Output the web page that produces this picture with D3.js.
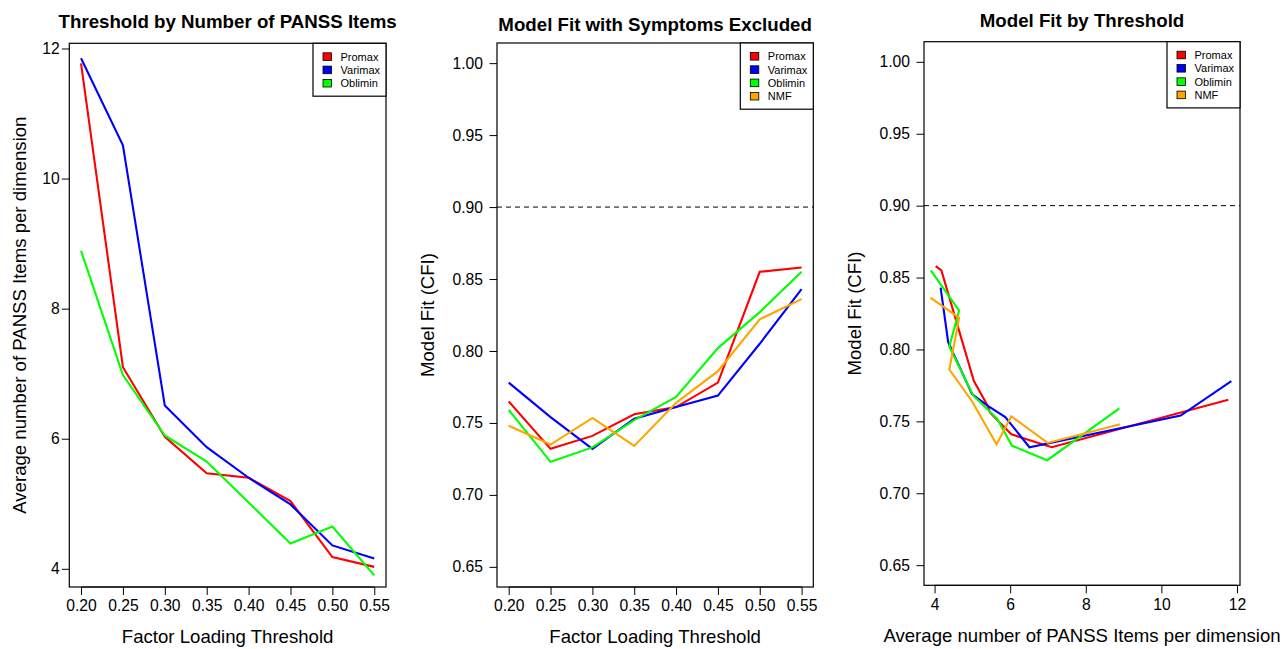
<!DOCTYPE html>
<html>
<head>
<meta charset="utf-8">
<script src="https://cdn.jsdelivr.net/npm/d3@7"></script>
<style>
  html, body { margin: 0; padding: 0; background: #fff; }
  svg { display: block; }
  text { font-family: "Liberation Sans", Arial, sans-serif; fill: #000; }
</style>
</head>
<body>
<svg id="chart" width="1284" height="649"></svg>
<script>
// ---- Data ----
const thresholds = [0.20, 0.25, 0.30, 0.35, 0.40, 0.45, 0.50, 0.55];
const methods = ["Promax", "Varimax", "Oblimin", "NMF"];
const methodColors = ["#FF0000", "#0000FF", "#00FF00", "#FFA500"];

// Average number of PANSS items per dimension, by threshold
const itemsPromax  = [11.77, 7.10, 6.03, 5.47, 5.40, 5.04, 4.18, 4.03];
const itemsVarimax = [11.85, 10.51, 6.51, 5.87, 5.40, 4.99, 4.36, 4.16];
const itemsOblimin = [8.89, 6.98, 6.05, 5.65, 5.02, 4.39, 4.65, 3.90];
const itemsNMF     = [8.91, 6.99, 6.03, 5.64, 4.99, 4.39, 4.65, 3.89];

// Model fit (CFI), by threshold
const cfiPromax  = [0.765, 0.732, 0.741, 0.756, 0.761, 0.778, 0.855, 0.858];
const cfiVarimax = [0.778, 0.754, 0.732, 0.753, 0.761, 0.769, 0.805, 0.843];
const cfiOblimin = [0.759, 0.723, 0.733, 0.752, 0.768, 0.802, 0.827, 0.855];
const cfiNMF     = [0.748, 0.735, 0.7535, 0.734, 0.764, 0.786, 0.822, 0.836];

const cfiLimits = [0.65, 1.00];
const cfiReference = 0.90;

const xTicksThreshold = [0.20, 0.25, 0.30, 0.35, 0.40, 0.45, 0.50, 0.55];
const yTicksItems = [4, 6, 8, 10, 12];
const xTicksItems = [4, 6, 8, 10, 12];
const yTicksCfi = [0.65, 0.70, 0.75, 0.80, 0.85, 0.90, 0.95, 1.00];

// ---- Helpers ----
const svg = d3.select("#chart");
function ext(lo, hi) { const d = (hi - lo) * 0.04; return [lo - d, hi + d]; }

function panel(cfg) {
  const g = svg.append("g");
  const x = d3.scaleLinear().domain(cfg.xDomain).range([cfg.left, cfg.right]);
  const y = d3.scaleLinear().domain(cfg.yDomain).range([cfg.bottom, cfg.top]);

  // reference line
  if (cfg.hline !== undefined) {
    g.append("line")
      .attr("x1", cfg.left).attr("x2", cfg.right)
      .attr("y1", y(cfg.hline)).attr("y2", y(cfg.hline))
      .attr("stroke", "#000").attr("stroke-width", 1)
      .attr("stroke-dasharray", "5,4");
  }

  // series
  const clipId = "clip" + cfg.id;
  g.append("clipPath").attr("id", clipId).append("rect")
    .attr("x", cfg.left).attr("y", cfg.top)
    .attr("width", cfg.right - cfg.left).attr("height", cfg.bottom - cfg.top);
  const line = d3.line().x(d => x(d[0])).y(d => y(d[1]));
  cfg.series.forEach(s => {
    const pts = s.xs.map((v, i) => [v, s.ys[i]]);
    g.append("path").attr("d", line(pts))
      .attr("fill", "none").attr("stroke", s.color)
      .attr("stroke-width", 2.1).attr("stroke-linejoin", "miter")
      .attr("clip-path", `url(#${clipId})`);
  });

  // x axis
  const xAxis = d3.axisBottom(x).tickValues(cfg.xTicks).tickFormat(cfg.xFmt)
    .tickSizeInner(8).tickSizeOuter(0).tickPadding(5);
  const xa = g.append("g").attr("transform", `translate(0,${cfg.bottom})`).call(xAxis);
  xa.select(".domain").remove();
  xa.append("line").attr("x1", x(cfg.xTicks[0])).attr("x2", x(cfg.xTicks[cfg.xTicks.length - 1]))
    .attr("y1", 0).attr("y2", 0).attr("stroke", "#000");
  xa.selectAll("text").attr("font-size", "15.7px").attr("fill", "#000")
    .attr("font-family", "Liberation Sans, Arial, sans-serif").attr("dy", "0.72em");
  xa.selectAll(".tick line").attr("stroke", "#000");

  // y axis
  const yAxis = d3.axisLeft(y).tickValues(cfg.yTicks).tickFormat(cfg.yFmt)
    .tickSizeInner(7.5).tickSizeOuter(0).tickPadding(cfg.yPad);
  const ya = g.append("g").attr("transform", `translate(${cfg.left},0)`).call(yAxis);
  ya.select(".domain").remove();
  ya.selectAll("text").attr("font-size", "15.7px").attr("fill", "#000")
    .attr("font-family", "Liberation Sans, Arial, sans-serif");
  ya.selectAll(".tick line").attr("stroke", "#000");

  // box
  g.append("rect").attr("x", cfg.left).attr("y", cfg.top)
    .attr("width", cfg.right - cfg.left).attr("height", cfg.bottom - cfg.top)
    .attr("fill", "none").attr("stroke", "#000").attr("stroke-width", 1.2);

  // title
  g.append("text").attr("x", (cfg.left + cfg.right) / 2).attr("y", cfg.titleY)
    .attr("text-anchor", "middle").attr("font-weight", "bold")
    .attr("font-size", "18.7px").text(cfg.title);

  // axis labels
  g.append("text").attr("x", (cfg.left + cfg.right) / 2).attr("y", cfg.xLabelY)
    .attr("text-anchor", "middle").attr("font-size", "18.6px").text(cfg.xLabel);
  const cy = (cfg.top + cfg.bottom) / 2;
  g.append("text").attr("transform", `translate(${cfg.yLabelX},${cy}) rotate(-90)`)
    .attr("text-anchor", "middle").attr("font-size", "18.6px").text(cfg.yLabel);

  // legend
  const n = cfg.series.length;
  const lw = 73, rowH = 13.3;
  const lx = cfg.right - lw, ly = cfg.top;
  const lg = g.append("g");
  lg.append("rect").attr("x", lx).attr("y", ly).attr("width", lw)
    .attr("height", rowH * n + 13).attr("fill", "#fff")
    .attr("stroke", "#000").attr("stroke-width", 1.2);
  cfg.series.forEach((s, i) => {
    const ry = ly + rowH * (i + 1);
    lg.append("rect").attr("x", lx + 10).attr("y", ry - 3.8)
      .attr("width", 8.5).attr("height", 7.6)
      .attr("fill", s.color).attr("stroke", "#000").attr("stroke-width", 0.8);
    lg.append("text").attr("x", lx + 27.5).attr("y", ry + 4)
      .attr("font-size", "11px").text(s.name);
  });
}

const fmt2 = d3.format(".2f");
const fmtInt = d3.format("d");
const itemsAll = [itemsPromax, itemsVarimax, itemsOblimin, itemsNMF];
const cfiAll = [cfiPromax, cfiVarimax, cfiOblimin, cfiNMF];
const thrDomain = ext(d3.min(thresholds), d3.max(thresholds));
const itemsDomain = ext(d3.min(itemsPromax), d3.max(itemsPromax));
const cfiDomain = ext(cfiLimits[0], cfiLimits[1]);

// Panel 1
panel({
  id: 1, left: 69.3, right: 386, top: 43.3, bottom: 587,
  xDomain: thrDomain, yDomain: itemsDomain,
  xTicks: xTicksThreshold, yTicks: yTicksItems, xFmt: fmt2, yFmt: fmtInt, yPad: 2,
  title: "Threshold by Number of PANSS Items", titleY: 28.3,
  xLabel: "Factor Loading Threshold", xLabelY: 643,
  yLabel: "Average number of PANSS Items per dimension", yLabelX: 26,
  series: [0, 1, 2].map(i => ({ name: methods[i], color: methodColors[i], xs: thresholds, ys: itemsAll[i] }))
});

// Panel 2
panel({
  id: 2, left: 497, right: 813.3, top: 43, bottom: 587,
  xDomain: thrDomain, yDomain: cfiDomain, hline: cfiReference,
  xTicks: xTicksThreshold, yTicks: yTicksCfi, xFmt: fmt2, yFmt: fmt2, yPad: 6.5,
  title: "Model Fit with Symptoms Excluded", titleY: 31,
  xLabel: "Factor Loading Threshold", xLabelY: 643,
  yLabel: "Model Fit (CFI)", yLabelX: 433.5,
  series: [0, 1, 2, 3].map(i => ({ name: methods[i], color: methodColors[i], xs: thresholds, ys: cfiAll[i] }))
});

// Panel 3
panel({
  id: 3, left: 924, right: 1240, top: 41.7, bottom: 585.3,
  xDomain: itemsDomain, yDomain: cfiDomain, hline: cfiReference,
  xTicks: xTicksItems, yTicks: yTicksCfi, xFmt: fmtInt, yFmt: fmt2, yPad: 6.5,
  title: "Model Fit by Threshold", titleY: 27.3,
  xLabel: "Average number of PANSS Items per dimension", xLabelY: 641.7,
  yLabel: "Model Fit (CFI)", yLabelX: 860.5,
  series: [0, 1, 2, 3].map(i => ({ name: methods[i], color: methodColors[i], xs: itemsAll[i], ys: cfiAll[i] }))
});
</script>
</body>
</html>
